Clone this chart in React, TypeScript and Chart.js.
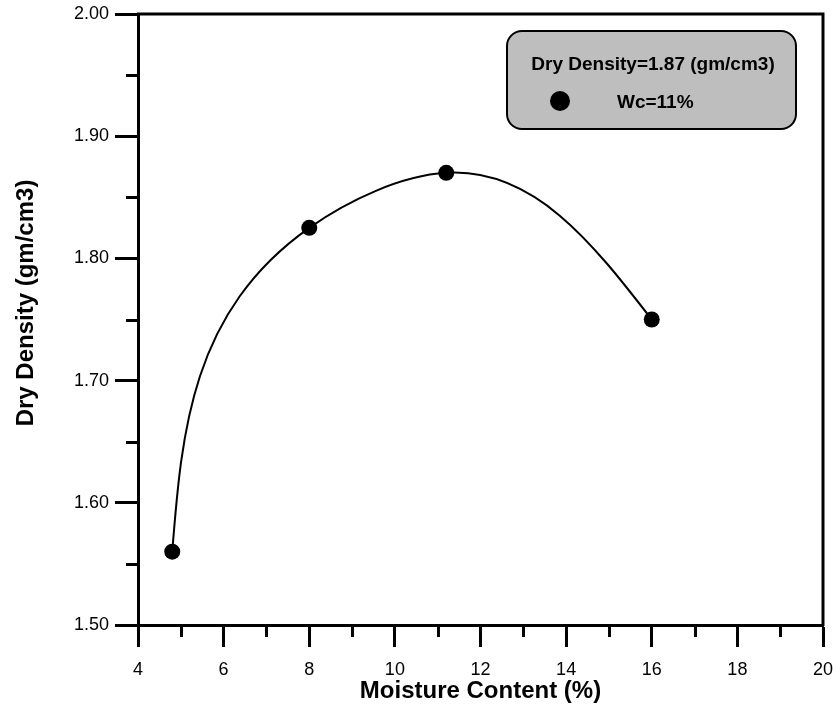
import React, { useEffect, useRef } from "react";
import { Chart, registerables } from "chart.js";

Chart.register(...registerables);

const moisture = [4.8, 8.0, 11.2, 16.0];
const dryDensity = [1.56, 1.825, 1.87, 1.75];
const xTitle = "Moisture Content (%)";
const yTitle = "Dry Density (gm/cm3)";
const legendTitle = "Dry Density=1.87 (gm/cm3)";
const legendLabel = "Wc=11%";
const xRange = [4, 20];
const yRange = [1.5, 2.0];

const FONT = "'Liberation Sans', Arial, sans-serif";
const KNOT_EXP = 1.25;

function naturalSplineControls(pts: { x: number; y: number }[]) {
  const n = pts.length - 1;
  const h: number[] = [];
  for (let i = 0; i < n; i++) {
    h[i] = Math.pow(Math.hypot(pts[i + 1].x - pts[i].x, pts[i + 1].y - pts[i].y) || 1, KNOT_EXP);
  }
  const solve = (k: "x" | "y") => {
    const a: number[] = [], b: number[] = [], c: number[] = [], r: number[] = [];
    b[0] = 2; c[0] = 1; a[0] = 0;
    r[0] = (3 * (pts[1][k] - pts[0][k])) / h[0];
    for (let i = 1; i < n; i++) {
      a[i] = h[i];
      b[i] = 2 * (h[i - 1] + h[i]);
      c[i] = h[i - 1];
      r[i] = 3 * ((h[i] * (pts[i][k] - pts[i - 1][k])) / h[i - 1] + (h[i - 1] * (pts[i + 1][k] - pts[i][k])) / h[i]);
    }
    a[n] = 1; b[n] = 2; c[n] = 0;
    r[n] = (3 * (pts[n][k] - pts[n - 1][k])) / h[n - 1];
    const cp = c.slice(), rp = r.slice(), bp = b.slice();
    for (let i = 1; i <= n; i++) {
      const m = a[i] / bp[i - 1];
      bp[i] = b[i] - m * cp[i - 1];
      rp[i] = r[i] - m * rp[i - 1];
    }
    const d: number[] = [];
    d[n] = rp[n] / bp[n];
    for (let i = n - 1; i >= 0; i--) d[i] = (rp[i] - cp[i] * d[i + 1]) / bp[i];
    return d;
  };
  return { dx: solve("x"), dy: solve("y"), h };
}

const splinePlugin = {
  id: "naturalSpline",
  beforeDatasetDraw(chart: any, args: any) {
    const meta = args.meta;
    const line = meta.dataset;
    const pts = meta.data;
    if (!line || !pts || pts.length < 2) return;
    if (typeof line.updateControlPoints === "function") line.updateControlPoints(chart.chartArea, "x");
    const p = pts.map((e: any) => ({ x: e.x, y: e.y }));
    const { dx, dy, h } = naturalSplineControls(p);
    const n = p.length - 1;
    for (let i = 0; i <= n; i++) {
      const e = pts[i];
      if (i < n) {
        e.cp2x = p[i].x + (dx[i] * h[i]) / 3;
        e.cp2y = p[i].y + (dy[i] * h[i]) / 3;
      } else {
        e.cp2x = p[i].x; e.cp2y = p[i].y;
      }
      if (i > 0) {
        e.cp1x = p[i].x - (dx[i] * h[i - 1]) / 3;
        e.cp1y = p[i].y - (dy[i] * h[i - 1]) / 3;
      } else {
        e.cp1x = p[i].x; e.cp1y = p[i].y;
      }
    }
    line._pointsUpdated = true;
    line._path = undefined;
  },
};

const framePlugin = {
  id: "frameAndLegend",
  afterDraw(chart: any) {
    const ctx = chart.ctx;
    const { top, right, bottom, left } = chart.chartArea;
    const xs = chart.scales.x;
    const ys = chart.scales.y;
    ctx.save();
    ctx.strokeStyle = "#000";
    ctx.lineWidth = 3;
    ctx.beginPath();
    ctx.moveTo(left - 1, top);
    ctx.lineTo(right, top);
    ctx.lineTo(right, bottom + 1);
    ctx.stroke();
    // minor ticks
    ctx.lineWidth = 3;
    ctx.beginPath();
    for (let v = xRange[0] + 1; v < xRange[1]; v += 2) {
      const px = Math.round(xs.getPixelForValue(v)) + 0.5;
      ctx.moveTo(px, bottom);
      ctx.lineTo(px, bottom + 12);
    }
    for (let k = 1; k < 10; k += 2) {
      const v = yRange[0] + k * 0.05;
      const py = Math.round(ys.getPixelForValue(v)) + 0.5;
      ctx.moveTo(left, py);
      ctx.lineTo(left - 12, py);
    }
    ctx.stroke();

    // y axis title
    ctx.save();
    ctx.translate(26, 303);
    ctx.rotate(-Math.PI / 2);
    ctx.fillStyle = "#000";
    ctx.font = `bold 24px ${FONT}`;
    ctx.textAlign = "center";
    ctx.textBaseline = "middle";
    ctx.fillText(yTitle, 0, 0);
    ctx.restore();

    // legend box
    const bx = 507, by = 31, bw = 289, bh = 98, r = 15;
    ctx.beginPath();
    ctx.moveTo(bx + r, by);
    ctx.lineTo(bx + bw - r, by);
    ctx.arcTo(bx + bw, by, bx + bw, by + r, r);
    ctx.lineTo(bx + bw, by + bh - r);
    ctx.arcTo(bx + bw, by + bh, bx + bw - r, by + bh, r);
    ctx.lineTo(bx + r, by + bh);
    ctx.arcTo(bx, by + bh, bx, by + bh - r, r);
    ctx.lineTo(bx, by + r);
    ctx.arcTo(bx, by, bx + r, by, r);
    ctx.closePath();
    ctx.fillStyle = "#bebebe";
    ctx.fill();
    ctx.lineWidth = 2;
    ctx.strokeStyle = "#000";
    ctx.stroke();

    ctx.fillStyle = "#000";
    ctx.font = `bold 19px ${FONT}`;
    ctx.textAlign = "center";
    ctx.textBaseline = "middle";
    ctx.fillText(legendTitle, 653, 65);
    ctx.beginPath();
    ctx.ellipse(560, 101, 10, 10, 0, 0, Math.PI * 2);
    ctx.fill();
    ctx.textAlign = "left";
    ctx.fillText(legendLabel, 617, 103);
    ctx.restore();
  },
};

export default function App() {
  const ref = useRef<HTMLCanvasElement>(null);
  useEffect(() => {
    if (!ref.current) return;
    const chart = new Chart(ref.current, {
      type: "line",
      data: {
        datasets: [
          {
            data: moisture.map((x, i) => ({ x, y: dryDensity[i] })),
            borderColor: "#000",
            borderWidth: 2,
            backgroundColor: "#000",
            pointRadius: 8,
            pointBorderWidth: 0,
            pointBackgroundColor: "#000",
            tension: 0.4,
            fill: false,
          },
        ],
      },
      options: {
        responsive: false,
        animation: false,
        layout: { padding: { top: 14, right: 13, bottom: 0, left: 0 } },
        plugins: { legend: { display: false }, tooltip: { enabled: false } },
        scales: {
          x: {
            type: "linear",
            min: xRange[0],
            max: xRange[1],
            position: "bottom",
            afterFit: (s: any) => { s.height = 86; s.paddingLeft = 0; s.paddingRight = 0; },
            ticks: {
              stepSize: 2,
              autoSkip: false,
              maxRotation: 0,
              padding: 12,
              color: "#000",
              font: { family: FONT, size: 18 },
            },
            grid: { drawOnChartArea: false, tickLength: 22, tickWidth: 3, tickColor: "#000" },
            border: { width: 3, color: "#000" },
            title: {
              display: true,
              text: xTitle,
              color: "#000",
              font: { family: FONT, size: 24, weight: "bold" },
              padding: { top: 0, bottom: 5 },
            },
          },
          y: {
            type: "linear",
            min: yRange[0],
            max: yRange[1],
            afterFit: (s: any) => { s.width = 138; s.paddingTop = 0; s.paddingBottom = 0; },
            ticks: {
              stepSize: 0.1,
              autoSkip: false,
              padding: 6,
              color: "#000",
              font: { family: FONT, size: 18 },
              callback: (v: any) => Number(v).toFixed(2),
            },
            grid: { drawOnChartArea: false, tickLength: 23, tickWidth: 3, tickColor: "#000" },
            border: { width: 3, color: "#000" },
            title: { display: false, text: yTitle },
          },
        },
      },
      plugins: [splinePlugin, framePlugin],
    });
    return () => chart.destroy();
  }, []);
  return (
    <div style={{ position: "absolute", left: 0, top: 0, width: 836, height: 711, background: "#fff" }}>
      <canvas ref={ref} width={836} height={711} style={{ width: 836, height: 711, display: "block" }} />
    </div>
  );
}
